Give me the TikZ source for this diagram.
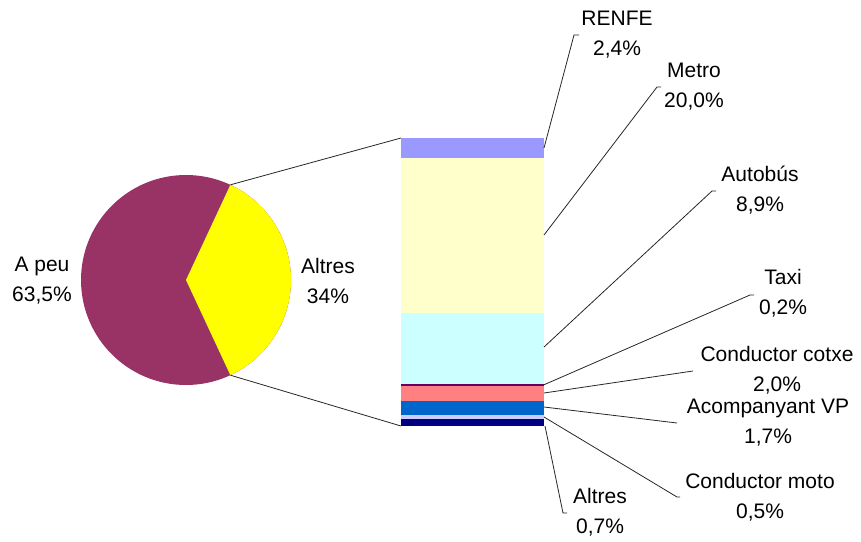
\documentclass[tikz,border=0pt]{standalone}
\usepackage{fontspec}
\setmainfont{Liberation Sans}
\definecolor{peu}{HTML}{993366}
\definecolor{alt}{HTML}{FFFF00}
\definecolor{renfe}{HTML}{9999FF}
\definecolor{metro}{HTML}{FFFFCC}
\definecolor{bus}{HTML}{CCFFFF}
\definecolor{taxi}{HTML}{660066}
\definecolor{cotxe}{HTML}{FF8080}
\definecolor{vp}{HTML}{0066CC}
\definecolor{moto}{HTML}{CCCCFF}
\definecolor{altb}{HTML}{000080}
\begin{document}
\begin{tikzpicture}[x=1pt,y=-1pt,
  lbl/.style={align=center,font=\fontsize{21}{30}\selectfont,inner sep=0pt},
  lead/.style={draw=black!85,line width=0.8pt},
  seg/.style={anchor=north west,inner sep=0pt,outer sep=0pt,minimum width=143pt}]
\useasboundingbox (0,0) rectangle (861,541);
% pie
\fill[peu] (186,280) circle[radius=105];
\fill[alt] (186,280) -- ++(-65:105) arc[start angle=-65,end angle=65,radius=105] -- cycle;
\coordinate (pc) at (186,280);
\coordinate (pt) at (230.4,184.8);
\coordinate (pb) at (230.4,375.2);
% bar
\node[seg,fill=renfe,minimum height=20pt] (sRenfe) at (401,138) {};
\node[seg,fill=metro,minimum height=155pt] (sMetro) at (401,158) {};
\node[seg,fill=bus,minimum height=71pt] (sBus) at (401,313) {};
\node[seg,fill=taxi,minimum height=1.5pt] (sTaxi) at (401,384) {};
\node[seg,fill=cotxe,minimum height=15.5pt] (sCotxe) at (401,385.5) {};
\node[seg,fill=vp,minimum height=14pt] (sVP) at (401,401) {};
\node[seg,fill=moto,minimum height=4pt] (sMoto) at (401,415) {};
\node[seg,fill=altb,minimum height=7pt] (sAlt) at (401,419) {};
% pie to bar
\draw[lead] (pt) -- (sRenfe.north west);
\draw[lead] (pb) -- (sAlt.south west);
% labels
\node[lbl] (lPeu) at (42,281) {A peu\\63,5\%};
\node[lbl] (lAlt) at (328,281) {Altres\\34\%};
\node[lbl] (lRenfe) at (617,35) {RENFE\\2,4\%};
\node[lbl] (lMetro) at (694,87) {Metro\\20,0\%};
\node[lbl] (lBus) at (760,190) {Autobús\\8,9\%};
\node[lbl] (lTaxi) at (783,293) {Taxi\\0,2\%};
\node[lbl] (lCotxe) at (777,370) {Conductor cotxe\\2,0\%};
\node[lbl] (lVP) at (768,423) {Acompanyant VP\\1,7\%};
\node[lbl] (lMoto) at (760,497) {Conductor moto\\0,5\%};
\node[lbl] (lAltb) at (600,512) {Altres\\0,7\%};
% leaders
\coordinate (eRenfe) at (574,35);
\coordinate (eMetro) at (657,87);
\coordinate (eBus) at (712,191);
\coordinate (eTaxi) at (750,295);
\coordinate (eCotxe) at (693,371);
\coordinate (eVP) at (677,423);
\coordinate (eMoto) at (677,497);
\coordinate (eAltb) at (563,513);
\draw[lead] (sRenfe.east) -- (eRenfe) -- ++(5,0);
\draw[lead] (sMetro.east |- 0,235) -- (eMetro) -- ++(4,0);
\draw[lead] (sBus.east |- 0,347) -- (eBus) -- ++(4,0);
\draw[lead] (sTaxi.east) -- (eTaxi) -- ++(4,0);
\draw[lead] (sCotxe.east |- 0,393) -- (eCotxe);
\draw[lead] (sVP.east |- 0,407) -- (eVP);
\draw[lead] (sMoto.east |- 0,417) -- (eMoto) -- ++(3,0);
\draw[lead] (sAlt.south east) ++(1,0) -- (eAltb) -- ++(4,0);
\end{tikzpicture}
\end{document}
